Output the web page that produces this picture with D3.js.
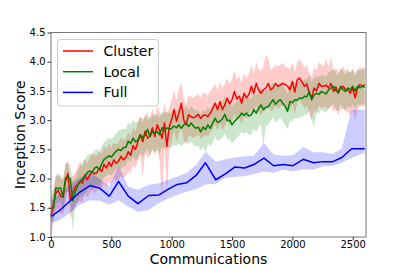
<!DOCTYPE html>
<html>
<head>
<script src="https://d3js.org/d3.v7.min.js"></script>
<style>
  body { margin: 0; background: #fff; font-family: "DejaVu Sans", sans-serif; }
</style>
</head>
<body>
<div id="chart"></div>
<script>
const width = 407, height = 271;
const margin = { top: 32.5, right: 41, bottom: 34, left: 51 };

// communications for Cluster / Local (every 20)
const commRG = d3.range(0, 2601, 20);

const clusterMean = [1.36,1.55,1.75,1.80,1.70,1.68,1.95,2.09,1.63,1.75,1.86,1.90,1.95,1.92,2.06,1.98,2.05,2.12,2.08,2.10,
  2.18,2.12,2.24,2.18,2.28,2.21,2.32,2.26,2.30,2.38,2.32,2.36,2.46,2.40,2.56,2.50,2.63,2.75,2.63,2.81,
  2.69,2.72,2.87,2.72,2.92,2.82,2.69,2.95,2.55,2.89,3.01,3.18,2.98,3.12,3.29,3.00,2.92,3.09,3.06,3.04,
  3.06,3.10,3.03,3.08,3.09,3.06,3.12,3.20,3.29,3.18,3.32,3.18,3.26,3.38,3.28,3.35,3.49,3.36,3.41,3.29,
  3.46,3.38,3.44,3.58,3.46,3.63,3.52,3.46,3.52,3.55,3.63,3.52,3.55,3.63,3.58,3.60,3.63,3.61,3.58,3.52,
  3.66,3.48,3.69,3.72,3.65,3.58,3.62,3.46,3.38,3.55,3.50,3.63,3.58,3.58,3.60,3.55,3.63,3.49,3.57,3.46,
  3.55,3.58,3.52,3.52,3.46,3.55,3.38,3.55,3.61,3.58,3.61];
const clusterHi = [1.65,1.85,2.05,2.10,2.00,2.00,2.25,2.30,2.00,2.05,2.10,2.20,2.30,2.20,2.35,2.25,2.35,2.45,2.40,2.38,
  2.48,2.42,2.55,2.50,2.60,2.52,2.62,2.58,2.62,2.70,2.65,2.68,2.80,2.72,2.88,2.82,2.95,3.08,2.95,3.12,
  3.00,3.05,3.20,3.05,3.25,3.15,3.05,3.28,3.10,3.22,3.35,3.50,3.35,3.55,3.65,3.35,3.28,3.42,3.40,3.38,
  3.42,3.45,3.38,3.48,3.45,3.42,3.50,3.55,3.62,3.52,3.65,3.55,3.62,3.72,3.62,3.70,3.85,3.70,3.75,3.65,
  3.80,3.72,3.80,3.95,3.80,4.00,3.88,3.85,3.92,4.12,4.05,3.85,3.90,3.95,3.92,3.95,3.98,3.92,3.90,3.88,
  3.98,3.82,4.00,4.05,3.98,3.90,3.95,3.80,3.75,3.90,3.85,4.00,3.95,3.92,4.05,3.90,4.08,3.85,3.90,3.82,
  3.88,3.92,3.85,3.88,3.80,3.88,3.75,3.85,3.92,3.88,3.92];
const clusterLo = [1.00,1.25,1.45,1.50,1.40,1.38,1.60,1.80,1.30,1.45,1.55,1.60,1.62,1.60,1.75,1.68,1.75,1.80,1.75,1.80,
  1.88,1.82,1.92,1.85,1.95,1.90,2.00,1.95,1.98,2.05,2.00,2.05,2.12,2.08,2.22,2.18,2.30,2.40,2.02,2.45,
  2.35,2.38,2.52,2.40,2.55,2.30,1.66,2.55,1.72,2.50,2.65,2.82,2.62,2.75,2.90,2.65,2.58,2.75,2.72,2.70,
  2.72,2.75,2.68,2.72,2.74,2.72,2.78,2.85,2.92,2.82,2.95,2.82,2.90,3.00,2.92,2.98,3.10,3.00,3.05,2.92,
  3.08,3.02,3.08,3.20,3.10,3.25,3.15,3.08,3.15,3.18,3.25,3.15,3.18,3.25,3.20,3.22,3.25,3.22,3.20,3.15,
  3.28,3.10,3.30,3.35,3.28,3.20,3.25,3.10,3.00,3.18,3.12,3.25,3.20,3.22,3.22,3.18,3.25,3.12,3.20,3.08,
  3.18,3.20,3.15,3.15,3.08,3.18,3.00,3.18,3.25,3.22,3.25];

const localMean = [1.49,1.50,1.84,1.83,1.84,1.69,2.01,2.04,1.99,1.62,1.77,1.87,1.95,1.99,2.04,2.10,2.13,2.10,2.18,2.20,
  2.15,2.25,2.33,2.36,2.39,2.37,2.42,2.47,2.50,2.48,2.53,2.53,2.64,2.60,2.69,2.63,2.66,2.75,2.70,2.75,
  2.84,2.72,2.80,2.78,2.80,2.75,2.87,2.82,2.87,2.84,2.86,2.90,2.87,2.92,2.86,2.92,2.95,2.89,2.95,2.90,
  2.86,2.88,2.80,2.88,2.84,2.92,2.86,2.95,3.03,2.96,2.98,3.02,3.10,2.99,3.00,2.92,2.98,3.02,3.06,3.12,
  3.08,3.12,3.07,3.09,3.18,3.12,3.20,3.26,3.18,3.22,3.23,3.29,3.35,3.27,3.32,3.35,3.29,3.24,3.15,3.32,
  3.30,3.35,3.34,3.38,3.37,3.41,3.40,3.49,3.35,3.43,3.46,3.44,3.49,3.47,3.45,3.52,3.55,3.58,3.50,3.48,
  3.58,3.52,3.49,3.55,3.52,3.58,3.50,3.58,3.55,3.58,3.56];
const localHi = [1.70,1.75,2.05,2.05,2.08,1.95,2.25,2.28,2.22,1.95,2.02,2.12,2.22,2.28,2.32,2.40,2.42,2.40,2.48,2.50,
  2.45,2.55,2.62,2.66,2.70,2.68,2.72,2.78,2.82,2.84,2.85,2.85,2.95,2.92,3.00,2.95,2.98,3.05,3.02,3.05,
  3.14,3.02,3.10,3.08,3.10,3.05,3.15,3.12,3.15,3.12,3.15,3.18,3.16,3.22,3.15,3.20,3.24,3.18,3.24,3.20,
  3.15,3.18,3.10,3.18,3.14,3.22,3.15,3.25,3.32,3.25,3.28,3.32,3.40,3.28,3.30,3.22,3.28,3.32,3.35,3.42,
  3.38,3.42,3.36,3.38,3.48,3.42,3.50,3.55,3.48,3.52,3.52,3.58,3.65,3.56,3.62,3.65,3.58,3.54,3.45,3.62,
  3.60,3.65,3.64,3.68,3.66,3.70,3.70,3.78,3.65,3.72,3.75,3.74,3.78,3.76,3.75,3.82,3.84,3.88,3.80,3.78,
  3.88,3.84,3.78,3.84,3.82,3.88,3.80,3.88,3.84,3.88,3.86];
const localLo = [1.30,1.28,1.60,1.58,1.62,1.42,1.75,1.78,1.72,1.10,1.50,1.60,1.68,1.70,1.75,1.80,1.85,1.80,1.88,1.90,
  1.85,1.95,2.02,2.05,2.08,2.05,2.12,2.15,2.20,2.15,2.22,2.22,2.32,2.28,2.38,2.30,2.35,2.44,2.38,2.44,
  2.52,2.40,2.48,2.45,2.48,2.42,2.55,2.50,2.55,2.52,2.54,2.58,2.55,2.60,2.54,2.60,2.64,2.58,2.64,2.58,
  2.55,2.56,2.48,2.55,2.45,2.60,2.55,2.62,2.72,2.65,2.66,2.70,2.78,2.66,2.68,2.60,2.65,2.70,2.74,2.80,
  2.76,2.80,2.74,2.76,2.85,2.80,2.88,2.94,2.55,2.90,2.92,2.98,3.05,2.95,3.00,3.04,2.98,2.92,2.84,3.00,
  2.98,3.04,3.02,3.06,3.05,3.10,3.08,3.18,3.02,2.88,3.14,3.12,3.18,3.15,3.14,3.20,3.24,3.28,3.18,3.16,
  3.28,3.20,3.18,3.24,3.20,3.28,3.18,3.28,3.24,3.28,3.26];

const commFull = [0,80,160,240,323,400,483,560,640,720,810,895,972,1045,1125,1205,1280,1365,1445,1525,
  1605,1680,1765,1845,1925,2005,2090,2175,2255,2335,2410,2490,2600];
const fullMean = [1.35,1.47,1.62,1.77,1.88,1.84,1.70,1.95,1.70,1.57,1.71,1.72,1.82,1.90,1.93,2.06,2.27,1.98,2.08,2.20,
  2.18,2.24,2.35,2.22,2.24,2.22,2.33,2.27,2.29,2.29,2.36,2.51,2.51];
const fullHi = [1.62,1.75,1.90,2.02,2.09,2.00,1.86,2.21,1.86,1.81,1.89,1.92,1.98,2.03,2.10,2.24,2.46,2.29,2.33,2.36,
  2.38,2.39,2.61,2.41,2.39,2.40,2.54,2.45,2.45,2.42,2.52,3.18,3.18];
const fullLo = [1.23,1.30,1.42,1.55,1.63,1.62,1.55,1.63,1.52,1.43,1.46,1.58,1.66,1.72,1.78,1.82,1.90,1.91,2.01,2.03,
  2.04,2.08,2.12,2.10,2.15,2.12,2.16,2.15,2.21,2.22,2.27,2.35,2.44];

const xTicks = [0, 500, 1000, 1500, 2000, 2500];
const yTicks = [1.0, 1.5, 2.0, 2.5, 3.0, 3.5, 4.0, 4.5];

const series = [
  { name: "Cluster", color: "#ff0000", x: commRG, mean: clusterMean, lo: clusterLo, hi: clusterHi },
  { name: "Local", color: "#008000", x: commRG, mean: localMean, lo: localLo, hi: localHi },
  { name: "Full", color: "#0000ff", x: commFull, mean: fullMean, lo: fullLo, hi: fullHi }
];

const svg = d3.select("#chart").append("svg")
  .attr("width", width)
  .attr("height", height)
  .style("font-family", "'DejaVu Sans', sans-serif");

const x = d3.scaleLinear().domain([0, 2610]).range([margin.left, width - margin.right]);
const y = d3.scaleLinear().domain([1, 4.5]).range([height - margin.bottom, margin.top]);

// bands
series.forEach(s => {
  const pts = s.x.map((c, i) => ({ c: c, lo: s.lo[i], hi: s.hi[i] }));
  svg.append("path")
    .datum(pts)
    .attr("fill", s.color)
    .attr("fill-opacity", 0.2)
    .attr("d", d3.area().x(d => x(d.c)).y0(d => y(d.lo)).y1(d => y(d.hi)));
});

// lines
series.forEach(s => {
  const pts = s.x.map((c, i) => ({ c: c, v: s.mean[i] }));
  svg.append("path")
    .datum(pts)
    .attr("fill", "none")
    .attr("stroke", s.color)
    .attr("stroke-width", 1.5)
    .attr("stroke-linejoin", "round")
    .attr("d", d3.line().x(d => x(d.c)).y(d => y(d.v)));
});

// frame
const x0 = x.range()[0], x1 = x.range()[1], y0 = y.range()[0], y1 = y.range()[1];
svg.append("rect")
  .attr("x", x0).attr("y", y1)
  .attr("width", x1 - x0).attr("height", y0 - y1)
  .attr("fill", "none")
  .attr("stroke", "#777")
  .attr("stroke-width", 1);

// axes
const xAxis = svg.append("g")
  .attr("transform", "translate(0," + y0 + ")")
  .call(d3.axisBottom(x).tickValues(xTicks).tickSize(3.5).tickPadding(0).tickFormat(d3.format("d")));
const yAxis = svg.append("g")
  .attr("transform", "translate(" + x0 + ",0)")
  .call(d3.axisLeft(y).tickValues(yTicks).tickSize(3.5).tickPadding(2).tickFormat(d3.format(".1f")));
[xAxis, yAxis].forEach(g => {
  g.select(".domain").remove();
  g.selectAll("line").attr("stroke", "#333");
  g.selectAll("text").attr("fill", "#000").style("font-size", "10px").style("font-family", "'DejaVu Sans', sans-serif");
});

svg.append("text")
  .attr("x", (x0 + x1) / 2)
  .attr("y", 263.5)
  .attr("text-anchor", "middle")
  .style("font-size", "14px")
  .text("Communications");

svg.append("text")
  .attr("transform", "translate(25," + ((y0 + y1) / 2) + ") rotate(-90)")
  .attr("text-anchor", "middle")
  .style("font-size", "14px")
  .text("Inception Score");

// legend
const legend = svg.append("g");
legend.append("rect")
  .attr("x", 57.5).attr("y", 39.5)
  .attr("width", 101).attr("height", 66.5)
  .attr("rx", 3)
  .attr("fill", "#fff").attr("fill-opacity", 0.8)
  .attr("stroke", "#ccc");
series.forEach((s, i) => {
  const ly = 51 + i * 20.7;
  legend.append("line")
    .attr("x1", 63).attr("x2", 93)
    .attr("y1", ly).attr("y2", ly)
    .attr("stroke", s.color).attr("stroke-width", 1.5);
  legend.append("text")
    .attr("x", 103.5).attr("y", ly + 5)
    .style("font-size", "14px")
    .text(s.name);
});
</script>
</body>
</html>
